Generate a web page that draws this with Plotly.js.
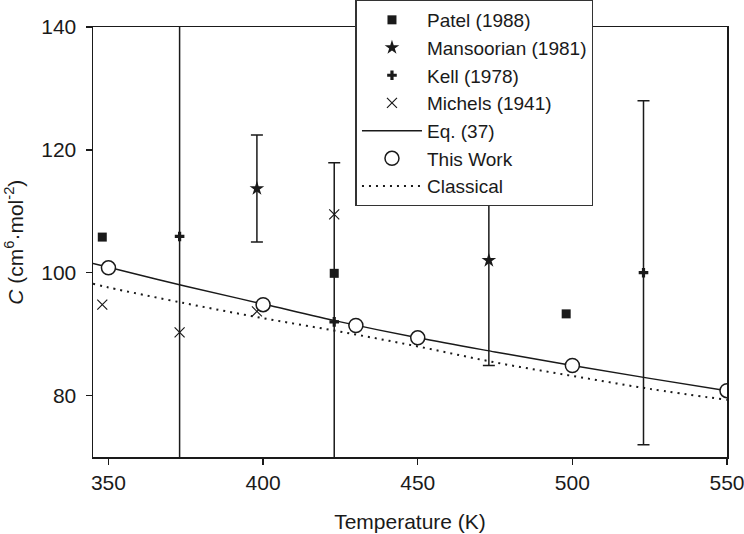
<!DOCTYPE html>
<html>
<head>
<meta charset="utf-8">
<script src="https://cdn.plot.ly/plotly-3.0.1.min.js"></script>
<style>
  html, body { margin: 0; padding: 0; background: #fff; }
  #chart { width: 744px; height: 534px; }
</style>
</head>
<body>
<div id="chart"></div>
<script>
// Patel (1988)
const patelT = [348, 423, 498];
const patelC = [105.8, 99.9, 93.3];

// Mansoorian (1981), with error bars
const mansT = [398, 473];
const mansC = [113.7, 102.0];
const mansErr = [8.7, 17.1];

// Kell (1978), with error bars
const kellT = [373, 423, 523];
const kellC = [105.9, 92.0, 100.0];
const kellErr = [40, 25.9, 28];

// Michels (1941)
const michelsT = [348, 373, 398, 423];
const michelsC = [94.8, 90.3, 93.7, 109.5];

// Eq. (37)
const eqT = [345, 350, 375, 400, 425, 450, 475, 500, 525, 550];
const eqC = [101.5, 100.9, 97.8, 94.9, 92.0, 89.4, 87.1, 84.9, 82.8, 80.8];

// This Work
const workT = [350, 400, 430, 450, 500, 550];
const workC = [100.8, 94.8, 91.4, 89.4, 84.9, 80.8];

// Classical
const classT = [345, 350, 375, 400, 425, 450, 475, 500, 525, 550];
const classC = [98.2, 97.6, 95.0, 92.6, 90.4, 88.0, 85.4, 83.2, 81.1, 79.3];

const chart = document.getElementById('chart');
const black = '#1a1a1a';
const fontFamily = 'Liberation Sans, Arial, sans-serif';

const data = [
  { x: patelT, y: patelC, mode: 'markers', name: 'Patel (1988)',
    marker: { symbol: 'square', size: 9, color: black } },
  { x: mansT, y: mansC, mode: 'markers', name: 'Mansoorian (1981)',
    marker: { symbol: 'star', size: 11, color: black },
    error_y: { type: 'data', array: mansErr, visible: true, color: black, thickness: 1.5, width: 6 } },
  { x: kellT, y: kellC, mode: 'markers', name: 'Kell (1978)',
    marker: { symbol: 'cross', size: 8, color: black },
    error_y: { type: 'data', array: kellErr, visible: true, color: black, thickness: 1.5, width: 6 } },
  { x: michelsT, y: michelsC, mode: 'markers', name: 'Michels (1941)',
    marker: { symbol: 'x-thin-open', size: 10, color: black, line: { width: 1.2, color: black } } },
  { x: eqT, y: eqC, mode: 'lines', name: 'Eq. (37)', line: { shape: 'spline', color: black, width: 1.5 } },
  { x: workT, y: workC, mode: 'markers', name: 'This Work',
    marker: { symbol: 'circle', size: 14, color: '#fff', line: { width: 1.5, color: black } } },
  { x: classT, y: classC, mode: 'lines', name: 'Classical',
    line: { shape: 'spline', color: black, width: 2, dash: '2px,5px' } }
];

const axisBase = {
  showgrid: false,
  zeroline: false,
  showline: true,
  mirror: true,
  linecolor: black,
  linewidth: 1.5,
  ticks: 'outside',
  ticklen: 6,
  tickwidth: 1.5,
  tickcolor: black,
  ticklabeloverflow: 'allow',
  tickfont: { family: fontFamily, size: 21, color: black }
};

const layout = {
  width: 744,
  height: 534,
  margin: { l: 93, r: 17, t: 27, b: 77, autoexpand: false },
  paper_bgcolor: '#fff',
  plot_bgcolor: '#fff',
  font: { family: fontFamily, color: black },
  showlegend: true,
  legend: {
    x: 0.414, y: 1.064, xanchor: 'left', yanchor: 'top',
    bgcolor: '#fff', bordercolor: '#333', borderwidth: 1.5,
    font: { size: 19, color: black },
    itemwidth: 60
  },
  xaxis: Object.assign({}, axisBase, {
    range: [345, 550],
    tickvals: [350, 400, 450, 500, 550],
    title: { text: 'Temperature (K)', font: { size: 21, color: black }, standoff: 21 }
  }),
  yaxis: Object.assign({}, axisBase, {
    range: [70, 140],
    tickvals: [80, 100, 120, 140],
    ticklabelstandoff: 5
  }),
  // y title placed by hand, further left than the axis title can go
  annotations: [{
    text: '<i>C</i> (cm<sup>6</sup>·mol<sup>-2</sup>)',
    xref: 'paper', yref: 'paper', x: -0.125, y: 0.5,
    xanchor: 'center', yanchor: 'middle', textangle: -90,
    showarrow: false, font: { size: 21, color: black }
  }]
};

Plotly.newPlot(chart, data, layout, { displayModeBar: false, staticPlot: true });
</script>
</body>
</html>
